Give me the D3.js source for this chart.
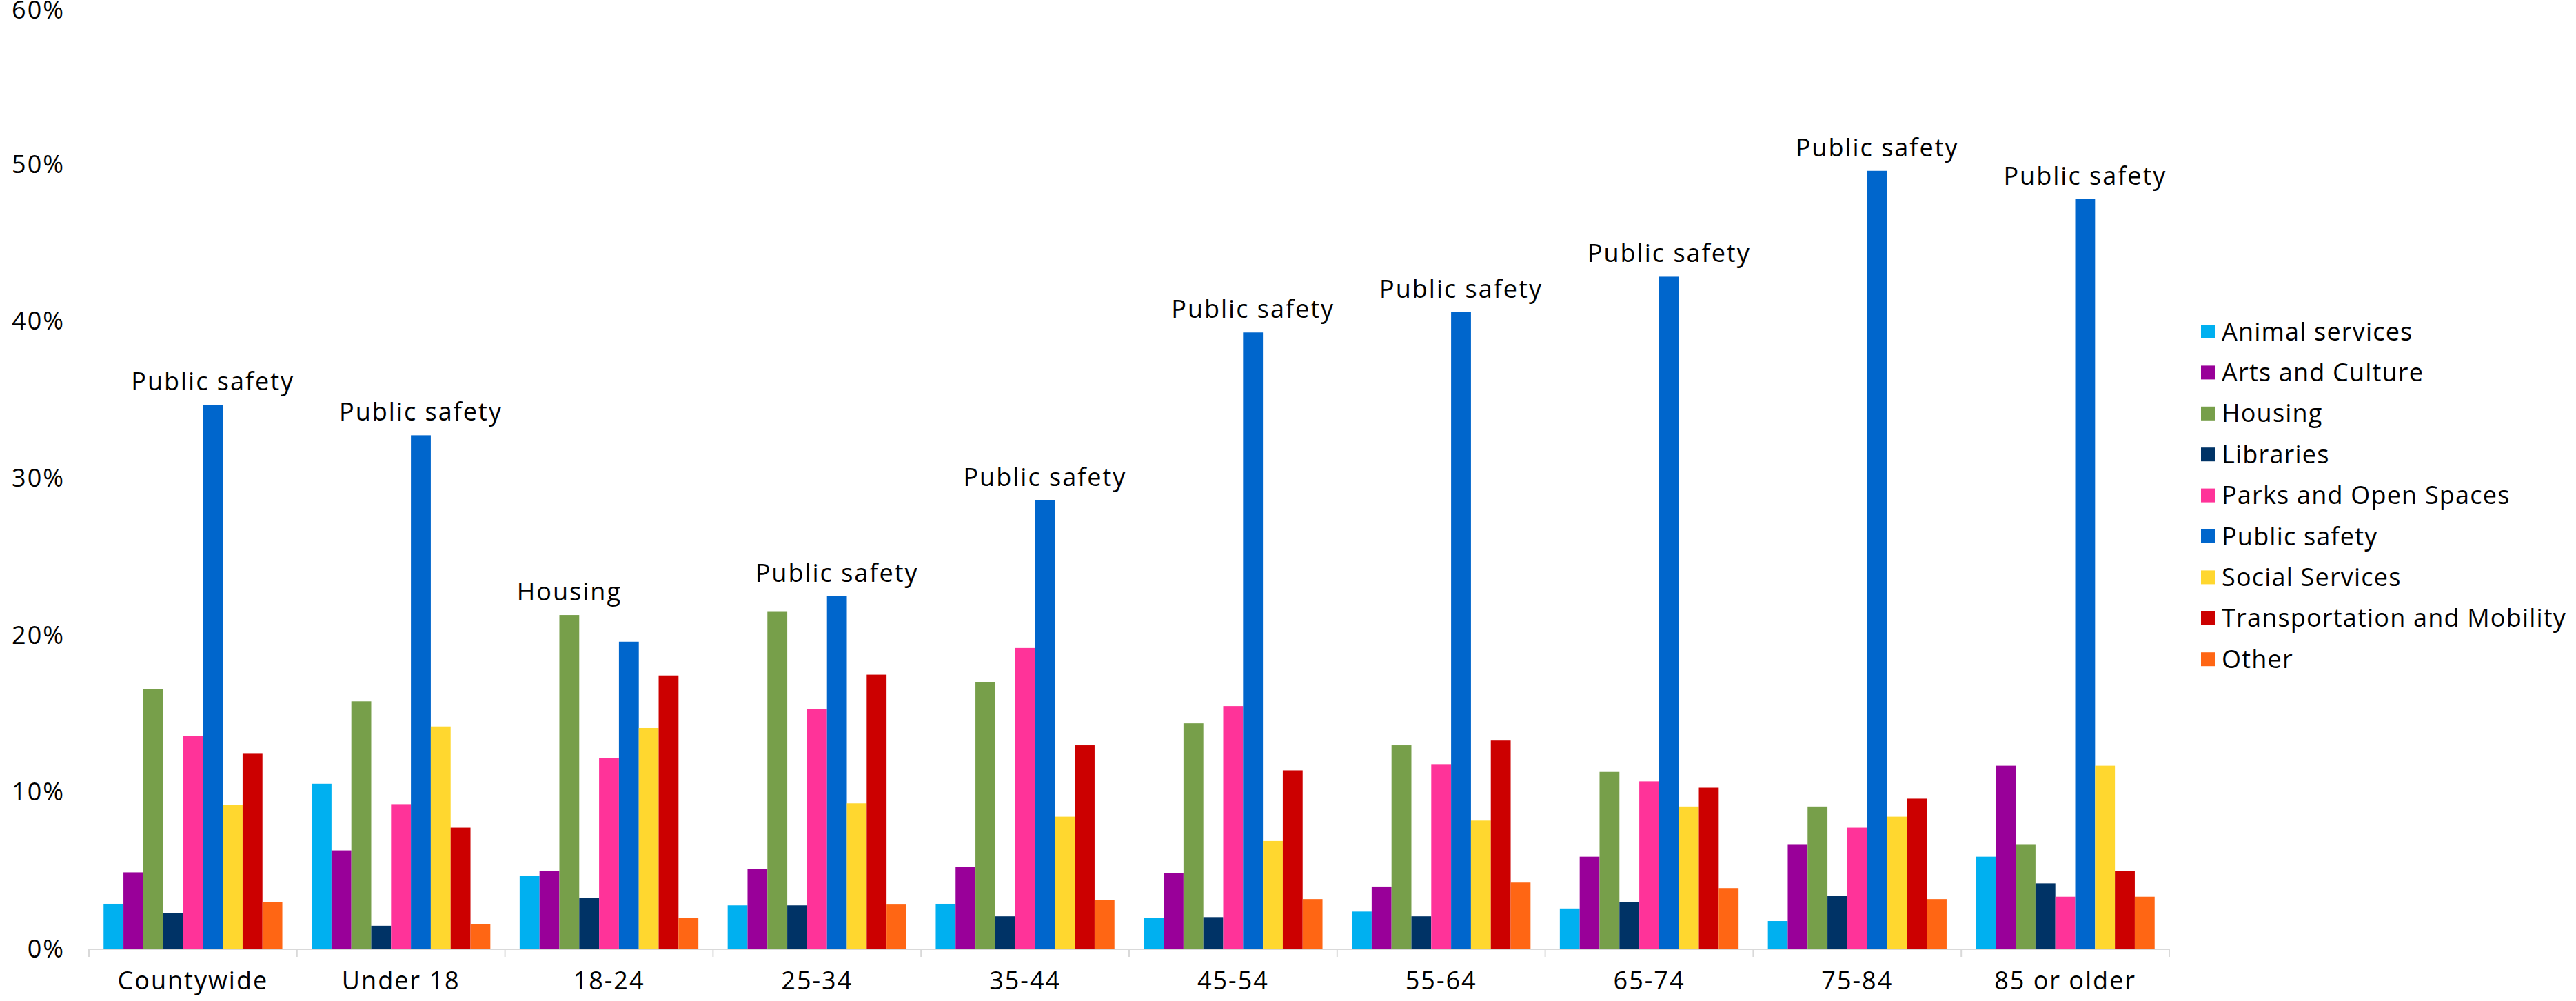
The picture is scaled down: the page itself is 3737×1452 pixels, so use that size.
<!DOCTYPE html>
<html>
<head>
<meta charset="utf-8">
<script src="https://cdn.jsdelivr.net/npm/d3@7"></script>
<style>
  html, body { margin: 0; padding: 0; background: #ffffff; }
  svg { display: block; }
  text { font-family: "Open Sans", "Noto Sans", sans-serif; fill: #000; }
</style>
</head>
<body>
<svg id="chart" width="3737" height="1452"></svg>
<script>
const categories = ["Countywide", "Under 18", "18-24", "25-34", "35-44", "45-54", "55-64", "65-74", "75-84", "85 or older"];
const seriesNames = ["Animal services", "Arts and Culture", "Housing", "Libraries", "Parks and Open Spaces", "Public safety", "Social Services", "Transportation and Mobility", "Other"];
const seriesColors = ["#00B0F0", "#990099", "#779F4A", "#003366", "#FF3399", "#0066CC", "#FFD72F", "#CC0000", "#FF6614"];

// values in percent, per series, across categories
const animalServices   = [2.9, 10.55, 4.7, 2.8, 2.9, 2.0, 2.4, 2.6, 1.8, 5.9];
const artsAndCulture   = [4.9, 6.3, 5.0, 5.1, 5.25, 4.85, 4.0, 5.9, 6.7, 11.7];
const housing          = [16.6, 15.8, 21.3, 21.5, 17.0, 14.4, 13.0, 11.3, 9.1, 6.7];
const libraries        = [2.3, 1.5, 3.25, 2.8, 2.1, 2.05, 2.1, 3.0, 3.4, 4.2];
const parksOpenSpaces  = [13.6, 9.25, 12.2, 15.3, 19.2, 15.5, 11.8, 10.7, 7.75, 3.35];
const publicSafety     = [34.7, 32.75, 19.6, 22.5, 28.6, 39.3, 40.6, 42.85, 49.6, 47.8];
const socialServices   = [9.2, 14.2, 14.1, 9.3, 8.45, 6.9, 8.2, 9.1, 8.45, 11.7];
const transportation   = [12.5, 7.75, 17.45, 17.5, 13.0, 11.4, 13.3, 10.3, 9.6, 5.0];
const other            = [3.0, 1.6, 2.0, 2.85, 3.15, 3.2, 4.25, 3.9, 3.2, 3.35];

const yTicks = [0, 10, 20, 30, 40, 50, 60];

const seriesValues = [animalServices, artsAndCulture, housing, libraries, parksOpenSpaces, publicSafety, socialServices, transportation, other];

const svg = d3.select("#chart");
const FS = 36;
const LS = 2;

const x0 = d3.scaleBand().domain(categories).range([129, 3147]).padding(0);
const x1 = d3.scaleBand().domain(seriesNames).range([0, x0.bandwidth()]).paddingInner(0).paddingOuter(0.738);
const y = d3.scaleLinear().domain([0, 60]).range([1377, 11]);
const color = d3.scaleOrdinal().domain(seriesNames).range(seriesColors);

// bars
const groups = svg.append("g").selectAll("g")
  .data(categories)
  .join("g")
  .attr("transform", d => `translate(${x0(d)},0)`);

groups.selectAll("rect")
  .data((c, ci) => seriesNames.map((s, si) => ({ s, v: seriesValues[si][ci] })))
  .join("rect")
  .attr("x", d => x1(d.s))
  .attr("width", x1.bandwidth())
  .attr("y", d => y(d.v))
  .attr("height", d => y(0) - y(d.v))
  .attr("fill", d => color(d.s));

// top-series annotation per category
groups.append("text")
  .each(function (c, ci) {
    let best = 0;
    seriesNames.forEach((s, si) => { if (seriesValues[si][ci] > seriesValues[best][ci]) best = si; });
    const s = seriesNames[best];
    d3.select(this)
      .attr("x", x1(s) + x1.bandwidth() / 2)
      .attr("y", y(seriesValues[best][ci]) - 21)
      .text(s);
  })
  .attr("text-anchor", "middle")
  .attr("font-size", FS)
  .attr("letter-spacing", LS);

// y axis (labels only)
const yAxis = d3.axisLeft(y).tickValues(yTicks).tickFormat(d => d + "%").tickSize(0).tickPadding(0);
const yg = svg.append("g").attr("transform", "translate(94,0)").call(yAxis);
yg.select(".domain").remove();
yg.selectAll("text").attr("font-size", FS).attr("font-family", "Open Sans, Noto Sans, sans-serif").attr("fill", "#000").attr("letter-spacing", LS);
yg.selectAll(".tick").filter(d => d === 60).select("text").attr("dy", "0.42em");

// x axis
const xAxis = d3.axisBottom(x0).tickSize(0).tickPadding(0);
const xg = svg.append("g").attr("transform", `translate(0,${y(0)})`).call(xAxis);
xg.select(".domain").attr("stroke", "#d9d9d9").attr("stroke-width", 2).attr("d", `M${x0.range()[0]},0H${x0.range()[1]}`);
xg.selectAll(".tick text").attr("font-size", FS).attr("font-family", "Open Sans, Noto Sans, sans-serif").attr("fill", "#000").attr("dy", 0).attr("y", 58).attr("letter-spacing", LS);
const boundaries = categories.map(c => x0(c)).concat([x0.range()[1]]);
xg.selectAll("line.sep").data(boundaries).join("line")
  .attr("class", "sep")
  .attr("x1", d => d).attr("x2", d => d)
  .attr("y1", 0).attr("y2", 11)
  .attr("stroke", "#d9d9d9").attr("stroke-width", 2);

// legend
const legend = svg.append("g").attr("transform", "translate(3193,0)");
const lg = legend.selectAll("g").data(seriesNames).join("g")
  .attr("transform", (d, i) => `translate(0,${481 + i * 59.4})`);
lg.append("rect").attr("x", 0).attr("y", -10).attr("width", 20).attr("height", 20).attr("fill", d => color(d));
lg.append("text").attr("x", 30).attr("dy", "0.35em").attr("font-size", FS).attr("letter-spacing", 1.2).text(d => d);
</script>
</body>
</html>
